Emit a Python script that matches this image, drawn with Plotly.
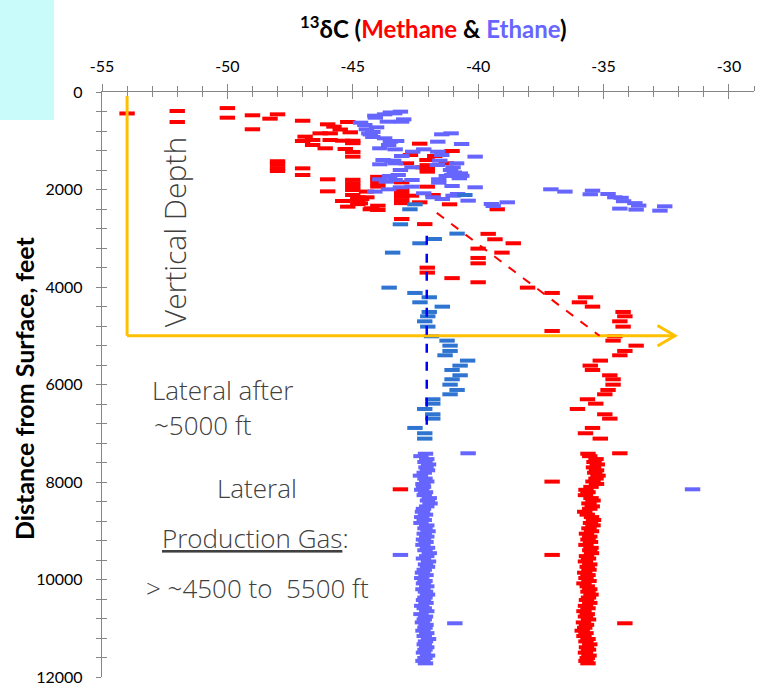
import plotly.graph_objects as go

# ---------------- data ----------------
x_tickvals = [-55, -50, -45, -40, -35, -30]
x_ticktext = ["-55", "-50", "-45", "-40", "-35", "-30"]
y_tickvals = [0, 2000, 4000, 6000, 8000, 10000, 12000]
y_ticktext = ["0", "2000", "4000", "6000", "8000", "10000", "12000"]

# Methane d13C, vertical section and scattered points
c1_upper_x = [-54.0, -52.0, -52.0, -50.0, -50.0, -49.0, -49.0, -48.3, -48.0, -47.0,
              -46.0, -45.75, -45.2, -45.5, -45.1, -46.9, -47.0, -46.6, -46.3, -45.9,
              -46.6, -46.1, -45.9, -45.4, -45.0, -45.0, -45.3, -45.0, -45.0, -48.0,
              -48.0, -48.0, -48.0, -47.0, -47.0, -46.0, -46.0, -45.0, -45.0, -45.0,
              -45.0, -45.4, -45.0, -45.2, -44.7, -44.45, -44.65, -44.25, -44.0, -44.0,
              -44.0, -44.0, -44.0, -44.0, -43.05, -43.05, -43.05, -43.05, -43.05, -43.05,
              -42.66, -42.86, -42.7, -42.33, -43.05, -42.13, -42.2, -42.03, -42.04, -42.03,
              -42.03, -42.03, -41.04, -41.27, -41.73, -41.8, -42.33, -41.14, -39.24, -44.3,
              -44.8, -44.8, -44.8, -44.44, -39.6, -39.33, -38.6, -40.0, -39.05, -40.0,
              -40.0, -42.03, -42.03, -41.04, -40.0, -38.03, -37.05, -35.72, -35.96, -35.44,
              -34.22, -34.15, -34.35, -34.22, -37.05, -34.55, -34.62, -33.7, -34.15, -34.35,
              -35.13, -35.53, -35.44, -34.75, -34.62, -34.62, -34.82, -34.95, -35.64, -35.31,
              -36.04, -34.95, -34.75, -35.44, -35.72, -35.13, -34.35, -43.1, -37.05, -37.05,
              -34.15]
c1_upper_y = [440, 390, 615, 330, 527, 478, 765, 547, 458, 590,
              663, 711, 615, 770, 827, 916, 1005, 985, 848, 848,
              1087, 1155, 985, 999, 1000, 1050, 1169, 1230, 1326, 1420,
              1480, 1560, 1620, 1566, 1703, 1791, 2038, 1800, 1870, 1940,
              2010, 2236, 2113, 2352, 2283, 2043, 2195, 2386, 2332, 2420,
              1740, 1800, 1870, 1940, 1853, 2010, 2080, 2150, 2220, 2280,
              2127, 1463, 1292, 1060, 2605, 2710, 1545, 1942, 1395, 1500,
              1570, 1634, 1210, 1463, 1313, 2113, 2263, 2304, 2406, 2406,
              2160, 2230, 2300, 2160, 2910, 3021, 3103, 3213, 3295, 3404,
              3514, 3603, 3705, 3818, 3903, 4013, 4122, 4211, 4314, 4403,
              4512, 4601, 4704, 4813, 4902, 5011, 5100, 5203, 5312, 5401,
              5510, 5613, 5702, 5811, 5893, 6003, 6112, 6201, 6303, 6393,
              6502, 6611, 6700, 6891, 7000, 7110, 7411, 8150, 7992, 9496,
              10898]

# Ethane d13C, vertical section and scattered points
c2_upper_x = [-43.1, -43.33, -43.73, -44.12, -44.1, -42.97, -43.05, -43.62, -44.69, -44.52,
              -44.05, -44.46, -44.2, -44.3, -44.2, -43.73, -43.5, -43.25, -43.57, -43.92,
              -43.31, -41.45, -41.08, -41.61, -40.66, -42.61, -42.17, -41.61, -43.05, -41.45,
              -40.12, -43.79, -43.37, -43.29, -43.92, -42.64, -43.1, -41.53, -40.86, -41.63,
              -41.0, -41.1, -40.95, -41.05, -40.71, -40.65, -40.75, -41.27, -41.57, -41.57,
              -43.92, -43.53, -43.31, -43.66, -42.64, -43.1, -42.64, -43.57, -44.12, -41.04,
              -40.12, -42.17, -41.8, -41.43, -41.0, -40.82, -40.4, -39.47, -39.4, -38.84,
              -37.1, -36.54, -35.44, -35.53, -34.82, -34.55, -34.3, -34.2, -33.75, -33.6,
              -34.35, -33.7, -32.75, -32.56, -44.36, -43.43, -43.19, -43.5,
              -40.4, -43.1, -40.93, -31.45]
c2_upper_y = [403, 438, 458, 486, 527, 561, 609, 609, 629, 677,
              725, 765, 820, 870, 923, 950, 1019, 1005, 1087, 1155,
              1176, 868, 848, 1019, 1067, 1224, 1176, 1224, 1313, 1292,
              1326, 1395, 1408, 1463, 1483, 1545, 1600, 1408, 1463, 1497,
              1545, 1600, 1650, 1700, 1670, 1720, 1770, 1723, 1790, 1860,
              1791, 1723, 1805, 1840, 1805, 1955, 1942, 1996, 2043, 1928,
              1955, 2078, 2160, 2195, 2127, 2092, 2229, 2297, 2338, 2263,
              1996, 2043, 2024, 2098, 2092, 2160, 2170, 2240, 2280, 2330,
              2392, 2412, 2434, 2345, 848, 1429, 1703, 420,
              7411, 9496, 10898, 8150]

# Ethane, second (darker blue) set in the vertical / curve section
c2b_x = [-40.53, -42.52, -42.72, -43.1, -40.84, -41.75, -42.32, -43.41, -43.55, -42.52,
         -41.95, -42.32, -41.43, -41.95, -42.01, -42.13, -42.01, -41.86, -41.24, -41.12,
         -41.12, -41.32, -40.42, -40.72, -41.04, -40.72, -41.04, -41.12, -40.84, -41.12,
         -41.81, -41.81, -42.13, -41.81, -41.81, -42.52, -42.13, -42.13]
c2b_y = [2113, 2304, 2406, 2714, 2905, 3015, 3103, 3295, 4013, 4122,
         4211, 4314, 4403, 4512, 4601, 4704, 4813, 5011, 5100, 5203,
         5312, 5401, 5510, 5613, 5702, 5811, 5893, 6003, 6112, 6201,
         6303, 6393, 6502, 6611, 6700, 6891, 7000, 7110]

# Lateral (production gas) samples
lat_depth = [7420, 7470, 7530, 7590, 7640, 7700, 7760, 7810, 7870, 7930,
             7990, 8040, 8100, 8160, 8210, 8270, 8330, 8380, 8440, 8500,
             8550, 8610, 8670, 8720, 8780, 8840, 8890, 8950, 9010, 9060,
             9120, 9180, 9230, 9290, 9350, 9400, 9460, 9520, 9570, 9630,
             9690, 9740, 9800, 9860, 9910, 9970, 10030, 10080, 10140, 10200,
             10250, 10310, 10370, 10420, 10480, 10540, 10590, 10650, 10710, 10760,
             10820, 10880, 10930, 10990, 11050, 11100, 11160, 11220, 11270, 11330,
             11390, 11440, 11500, 11560, 11610, 11670, 11720]
lat_c2 = [-42.10, -42.28, -42.05, -42.12, -41.98, -42.08, -42.02, -42.15, -42.30, -42.12,
          -42.05, -42.20, -42.18, -42.25, -42.10, -42.15, -41.95, -42.02, -41.92, -42.05,
          -42.18, -42.22, -42.10, -42.25, -42.15, -42.28, -42.05, -42.12, -42.00, -42.15,
          -42.05, -42.18, -42.08, -42.20, -42.02, -42.12, -41.95, -42.05, -42.18, -41.98,
          -42.10, -42.02, -42.15, -42.22, -42.08, -42.25, -42.12, -42.18, -42.05, -42.20,
          -42.10, -42.02, -42.12, -42.18, -42.08, -42.25, -42.15, -42.05, -42.28, -42.10,
          -42.15, -42.22, -42.08, -42.12, -42.20, -42.05, -42.15, -41.98, -42.10, -42.15,
          -42.05, -42.12, -42.18, -42.02, -42.12, -42.20, -42.10]
lat_c1 = [-35.62, -35.55, -35.30, -35.38, -35.25, -35.40, -35.28, -35.35, -35.22, -35.30,
          -35.42, -35.28, -35.50, -35.70, -35.62, -35.72, -35.50, -35.42, -35.58, -35.45,
          -35.55, -35.75, -35.65, -35.48, -35.40, -35.52, -35.42, -35.58, -35.48, -35.68,
          -35.55, -35.62, -35.52, -35.70, -35.50, -35.55, -35.48, -35.68, -35.60, -35.72,
          -35.55, -35.65, -35.58, -35.75, -35.62, -35.70, -35.58, -35.78, -35.65, -35.55,
          -35.62, -35.50, -35.60, -35.68, -35.55, -35.72, -35.62, -35.78, -35.65, -35.72,
          -35.60, -35.80, -35.68, -35.75, -35.85, -35.70, -35.78, -35.62, -35.70, -35.55,
          -35.68, -35.60, -35.72, -35.58, -35.65, -35.70, -35.62]

# ---------------- styling ----------------
RED = "#FF0000"
PURPLE = "#6666FF"
STEEL = "#2F74D0"
YELLOW = "#FFC000"
AXIS = "#868686"
TXT = "#404040"

def dash_marker(color):
    return dict(symbol="line-ew", size=11, line=dict(width=4, color=color))

fig = go.Figure()
fig.add_trace(go.Scatter(x=c1_upper_x + lat_c1, y=c1_upper_y + lat_depth, mode="markers",
                         marker=dash_marker(RED), name="Methane", showlegend=False))
fig.add_trace(go.Scatter(x=c2_upper_x + lat_c2, y=c2_upper_y + lat_depth, mode="markers",
                         marker=dash_marker(PURPLE), name="Ethane", showlegend=False))
fig.add_trace(go.Scatter(x=c2b_x, y=c2b_y, mode="markers",
                         marker=dash_marker(STEEL), name="Ethane (curve)", showlegend=False))
# helper trace for the inner half of the crossing tick marks
fig.add_trace(go.Scatter(x=[None], y=[None], xaxis="x2", yaxis="y2", showlegend=False,
                         hoverinfo="skip"))

tickfont = dict(family="Lato, Open Sans, sans-serif", size=16, color="#000000")

fig.update_layout(
    width=760, height=685,
    margin=dict(l=102, r=6, t=92, b=8),
    plot_bgcolor="white", paper_bgcolor="white",
    showlegend=False,
    xaxis=dict(range=[-55, -29], side="top", tickvals=x_tickvals, ticktext=x_ticktext,
               ticks="outside", ticklen=7, tickcolor=AXIS, tickwidth=1,
               minor=dict(dtick=1, tick0=-55, ticks="outside", ticklen=5, tickcolor=AXIS),
               showline=True, linecolor=AXIS, linewidth=1.3, showgrid=False, zeroline=False,
               tickfont=tickfont, ticklabelstandoff=5, ticklabeloverflow="allow",
               automargin=False),
    yaxis=dict(range=[12000, 0], tickvals=y_tickvals, ticktext=y_ticktext,
               ticks="outside", ticklen=5, tickcolor=AXIS, tickwidth=1,
               minor=dict(dtick=400, tick0=0, ticks="outside", ticklen=5, tickcolor=AXIS),
               showline=True, linecolor=AXIS, linewidth=1.3, showgrid=False, zeroline=False,
               tickfont=tickfont, ticklabelstandoff=10, ticklabeloverflow="allow",
               automargin=False),
    xaxis2=dict(range=[-55, -29], overlaying="x", side="top", anchor="y",
                tickvals=x_tickvals, ticks="inside", ticklen=7, tickcolor=AXIS,
                minor=dict(dtick=1, tick0=-55, ticks="inside", ticklen=5, tickcolor=AXIS),
                showticklabels=False, showline=False, showgrid=False, zeroline=False,
                automargin=False),
    yaxis2=dict(range=[12000, 0], overlaying="y", side="left", anchor="x",
                tickvals=y_tickvals, ticks="inside", ticklen=5, tickcolor=AXIS,
                minor=dict(dtick=400, tick0=0, ticks="inside", ticklen=5, tickcolor=AXIS),
                showticklabels=False, showline=False, showgrid=False, zeroline=False,
                automargin=False),
)

# cyan block at top-left
fig.add_shape(type="rect", xref="paper", yref="paper", x0=-0.1564, x1=-0.0736,
              y0=0.952, y1=1.16, fillcolor="#C9FBFB", line=dict(width=0), layer="below")

# yellow arrows (vertical depth -> lateral)
fig.add_shape(type="line", x0=-54, x1=-54, y0=80, y1=5000, line=dict(color=YELLOW, width=3))
fig.add_shape(type="line", x0=-54, x1=-32.15, y0=5000, y1=5000, line=dict(color=YELLOW, width=3))
fig.add_shape(type="path", path="M -32.85 4790 L -32.15 5000 L -32.85 5210",
              line=dict(color=YELLOW, width=3))
# dashed guide lines
fig.add_shape(type="line", x0=-41.65, y0=2480, x1=-35.16, y1=5000,
              line=dict(color=RED, width=2, dash="dash"))
fig.add_shape(type="line", x0=-42.05, y0=2950, x1=-42.05, y1=7000,
              line=dict(color="#0000FF", width=2.5, dash="dash"))

# title
fig.add_annotation(xref="paper", yref="paper", x=0.5077, y=1.111, xanchor="center", yanchor="middle",
                   showarrow=False,
                   text="<b><sup>13</sup>δC (<span style='color:#FF0000'>Methane</span> &amp; "
                        "<span style='color:#6666FF'>Ethane</span>)</b>",
                   font=dict(family="Lato, Open Sans, sans-serif", size=24, color="#000000"))
# y-axis title
fig.add_annotation(xref="paper", yref="paper", x=-0.1196, y=0.494, xanchor="center", yanchor="middle",
                   showarrow=False, textangle=-90, text="<b>Distance from Surface, feet</b>",
                   font=dict(family="Lato, Open Sans, sans-serif", size=25, color="#000000"))

afont = dict(family="Open Sans, Lato, sans-serif", size=26, color=TXT, weight=300)
fig.add_annotation(x=-52.08, y=2871, text="Vertical Depth", textangle=-90, showarrow=False,
                   xanchor="center", yanchor="middle", font=dict(afont, size=30))
fig.add_annotation(x=-53.08, y=6112, text="Lateral after", showarrow=False,
                   xanchor="left", yanchor="middle", font=afont)
fig.add_annotation(x=-53.0, y=6830, text="~5000 ft", showarrow=False,
                   xanchor="left", yanchor="middle", font=afont)
fig.add_annotation(x=-48.81, y=8122, text="Lateral", showarrow=False,
                   xanchor="center", yanchor="middle", font=afont)
fig.add_annotation(x=-48.89, y=9147, text="<u>Production Gas</u>:", showarrow=False,
                   xanchor="center", yanchor="middle", font=afont)
fig.add_annotation(x=-48.81, y=10173, text="> ~4500 to\u00a0 5500 ft", showarrow=False,
                   xanchor="center", yanchor="middle", font=afont)

fig.write_html("out.html", config={"displayModeBar": False},
               post_script="document.body.style.margin='0';")
